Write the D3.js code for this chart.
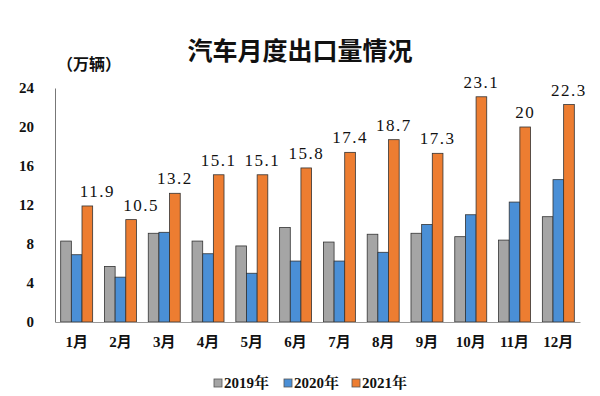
<!DOCTYPE html>
<html>
<head>
<meta charset="utf-8">
<script src="https://cdn.jsdelivr.net/npm/d3@7"></script>
<style>
body { margin: 0; background: #fff; }
svg text { font-family: "Liberation Serif", "Noto Serif CJK SC", "Noto Sans CJK SC", serif; }
</style>
</head>
<body>
<div id="chart"></div>
<script>
var months = ["1月", "2月", "3月", "4月", "5月", "6月", "7月", "8月", "9月", "10月", "11月", "12月"];
var years = ["2019年", "2020年", "2021年"];
var v2019 = [8.3, 5.7, 9.1, 8.3, 7.8, 9.7, 8.2, 9.0, 9.1, 8.75, 8.4, 10.8];
var v2020 = [6.9, 4.6, 9.2, 7.0, 5.0, 6.25, 6.25, 7.15, 10.0, 11.0, 12.3, 14.6];
var v2021 = [11.9, 10.5, 13.2, 15.1, 15.1, 15.8, 17.4, 18.7, 17.3, 23.1, 20, 22.3];
var yTicks = [0, 4, 8, 12, 16, 20, 24];
var colors = ["#a5a5a5", "#4a8fd6", "#ed7d31"];

var W = 600, H = 396;
var svg = d3.select("#chart").append("svg").attr("width", W).attr("height", H);

var series = [v2019, v2020, v2021];

var x = d3.scaleBand().domain(months).range([55, 580]).paddingInner(0.27).paddingOuter(0.13);
var xs = d3.scaleBand().domain(d3.range(3)).range([0, x.bandwidth()]);
var y = d3.scaleLinear().domain([0, 24]).range([322, 88]);

// title
svg.append("text").attr("x", 300).attr("y", 60).attr("text-anchor", "middle")
    .style("font-family", "'Noto Sans CJK SC', sans-serif")
    .style("font-size", "25px").style("font-weight", "bold").attr("fill", "#111")
    .text("汽车月度出口量情况");

svg.append("text").attr("x", 57).attr("y", 70)
    .style("font-family", "'Noto Sans CJK SC', sans-serif")
    .style("font-size", "16px").style("font-weight", "bold").attr("fill", "#111")
    .text("（万辆）");

// y axis
var yAxis = svg.append("g").attr("transform", "translate(55,0)")
    .call(d3.axisLeft(y).tickValues(yTicks).tickSize(0).tickPadding(21));
yAxis.select(".domain").attr("stroke", "#777");
yAxis.selectAll("text").style("font-size", "15px").style("font-weight", "bold").attr("fill", "#111");

// bars
series.forEach(function (vals, s) {
    svg.append("g").selectAll("rect").data(vals).enter().append("rect")
        .attr("x", function (d, i) { return x(months[i]) + xs(s); })
        .attr("y", function (d) { return y(d); })
        .attr("width", xs.bandwidth())
        .attr("height", function (d) { return y(0) - y(d); })
        .attr("fill", colors[s])
        .attr("stroke", "#333")
        .attr("stroke-width", 0.8);
});

// labels for 2021 (first two sit a bit to the right in the original)
svg.append("g").selectAll("text").data(v2021).enter().append("text")
    .attr("x", function (d, i) { return x(months[i]) + xs(2) + xs.bandwidth() / 2 + (i < 2 ? 10 : 0); })
    .attr("y", function (d) { return y(d) - 9; })
    .attr("text-anchor", "middle")
    .style("font-size", "17px").style("letter-spacing", "1.5px").attr("fill", "#111")
    .text(function (d) { return d; });

// x axis
var xAxis = svg.append("g").attr("transform", "translate(0,322)")
    .call(d3.axisBottom(x).tickSize(0).tickPadding(14));
xAxis.select(".domain").attr("stroke", "#999");
xAxis.selectAll("text").style("font-size", "15px").style("font-weight", "bold").attr("fill", "#111")
    .style("font-family", "'Liberation Serif', 'Noto Sans CJK SC', serif");

// legend
var legendX = [214, 284, 352];
var legend = svg.append("g").selectAll("g").data(years).enter().append("g")
    .attr("transform", function (d, i) { return "translate(" + legendX[i] + ",383)"; });
legend.append("rect").attr("x", 0).attr("y", -4).attr("width", 8).attr("height", 8)
    .attr("fill", function (d, i) { return colors[i]; }).attr("stroke", "#555").attr("stroke-width", 0.8);
legend.append("text").attr("x", 10).attr("y", 5)
    .style("font-size", "15px").style("font-weight", "bold").attr("fill", "#111")
    .text(function (d) { return d; });
</script>
</body>
</html>
